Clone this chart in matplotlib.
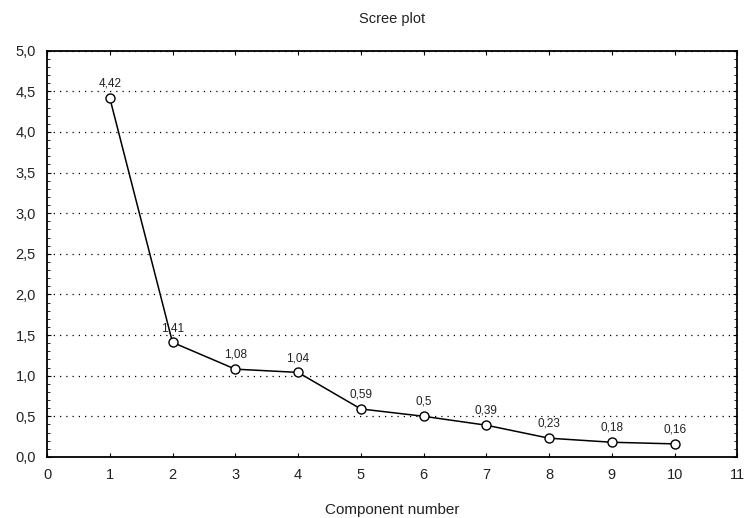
import matplotlib
matplotlib.use("Agg")
from matplotlib import pyplot as plt
from matplotlib.ticker import MultipleLocator, FuncFormatter

plt.rcParams['font.family'] = ['Liberation Sans', 'DejaVu Sans']

components = [1, 2, 3, 4, 5, 6, 7, 8, 9, 10]
eigenvalues = [4.42, 1.41, 1.08, 1.04, 0.59, 0.5, 0.39, 0.23, 0.18, 0.16]
value_labels = ["4,42", "1,41", "1,08", "1,04", "0,59", "0,5", "0,39", "0,23", "0,18", "0,16"]

fig = plt.figure(figsize=(7.52, 5.18), dpi=100)
ax = fig.add_axes([0.0625, 0.118, 0.918, 0.784])

ax.plot(components, eigenvalues, color='black', linewidth=1.1,
        marker='o', markersize=6.5, markerfacecolor='white',
        markeredgecolor='black', markeredgewidth=1.0, zorder=3)

for x, y, lab in zip(components, eigenvalues, value_labels):
    ax.annotate(lab, (x, y), xytext=(0, 6), textcoords='offset points',
                ha='center', va='bottom', fontsize=8.5, color='#222222')

ax.set_xlim(0, 11)
ax.set_ylim(0, 5)
ax.xaxis.set_major_locator(MultipleLocator(1))
ax.yaxis.set_major_locator(MultipleLocator(0.5))
ax.yaxis.set_minor_locator(MultipleLocator(0.1))
ax.yaxis.set_major_formatter(FuncFormatter(lambda v, p: f"{v:.1f}".replace('.', ',')))

ax.tick_params(which='both', direction='in', top=True, right=True, labelsize=10.5,
               labelcolor='#222222')
ax.tick_params(which='major', length=3, width=0.8, pad=8)
ax.tick_params(which='minor', length=2, width=0.6)

ax.yaxis.grid(True, linestyle=(0, (1, 4)), color='black', linewidth=0.9)
ax.set_axisbelow(True)

for s in ax.spines.values():
    s.set_linewidth(1.3)

ax.set_title('Scree plot', fontsize=10.5, pad=20, color='#222222')
ax.set_xlabel('Component number', fontsize=11, labelpad=15, color='#222222')

plt.savefig("out.png", dpi=100)
